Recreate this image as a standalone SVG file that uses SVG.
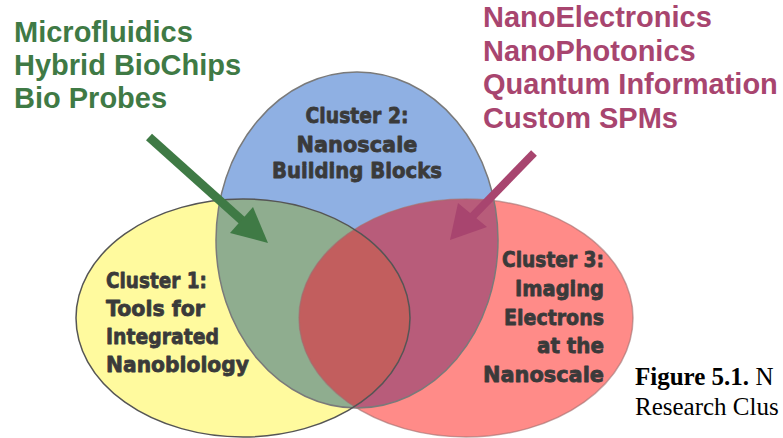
<svg xmlns="http://www.w3.org/2000/svg" width="783" height="438" viewBox="0 0 783 438">
<style>
.lbl{font-family:"DejaVu Sans","Liberation Sans",sans-serif;font-weight:bold;font-size:22px;fill:#3a3a3a;stroke:#3a3a3a;stroke-width:0.8;stroke-linejoin:round}
.bio{font-family:"Liberation Sans",Arial,sans-serif;font-weight:bold;font-size:29px;fill:#3f7a45}
.nano{font-family:"Liberation Sans",Arial,sans-serif;font-weight:bold;font-size:29px;fill:#a8456f}
.cap{font-family:"Liberation Serif","Times New Roman",serif;font-size:25px;fill:#000}
.edge{fill:none;stroke:#7a7a7a;stroke-width:1.5}
</style>
<defs>
<ellipse id="eY" cx="243" cy="318" rx="167" ry="119"/>
<ellipse id="eB" cx="357" cy="240" rx="141" ry="168"/>
<ellipse id="eR" cx="466" cy="318" rx="167" ry="119"/>
<clipPath id="cB"><use href="#eB"/></clipPath>
<clipPath id="cY"><use href="#eY"/></clipPath>
</defs>
<rect width="783" height="438" fill="#ffffff"/>
<g id="cluster2">
<use href="#eB" fill="#8fb0e3"/>
</g>
<g id="cluster1">
<use href="#eY" fill="#fffa9e"/>
</g>
<g id="cluster3">
<use href="#eR" fill="#ff8b88"/>
</g>
<g id="overlaps">
<use href="#eY" fill="#8fad8f" clip-path="url(#cB)"/>
<use href="#eR" fill="#b85c7a" clip-path="url(#cB)"/>
<use href="#eR" fill="#c25e5e" clip-path="url(#cY)"/>
</g>
<g id="outlines">
<use href="#eB" class="edge" stroke="#888"/>
<use href="#eR" class="edge" style="stroke:#a07070;stroke-opacity:0.6"/>
<use href="#eY" class="edge" style="stroke:#555"/>
</g>
<g id="label-cluster2" class="lbl" text-anchor="middle">
<text x="357" y="123" textLength="103" lengthAdjust="spacingAndGlyphs">Cluster 2:</text>
<text x="357" y="152" textLength="121" lengthAdjust="spacingAndGlyphs">Nanoscale</text>
<text x="357" y="178" textLength="170" lengthAdjust="spacingAndGlyphs">Building Blocks</text>
</g>
<g id="label-cluster1" class="lbl">
<text x="106" y="288" textLength="101" lengthAdjust="spacingAndGlyphs">Cluster 1:</text>
<text x="106" y="316" textLength="99" lengthAdjust="spacingAndGlyphs">Tools for</text>
<text x="106" y="344" textLength="113" lengthAdjust="spacingAndGlyphs">Integrated</text>
<text x="106" y="372" textLength="143" lengthAdjust="spacingAndGlyphs">Nanobiology</text>
</g>
<g id="label-cluster3" class="lbl" text-anchor="end">
<text x="604" y="267" textLength="102" lengthAdjust="spacingAndGlyphs">Cluster 3:</text>
<text x="604" y="296" textLength="89" lengthAdjust="spacingAndGlyphs">Imaging</text>
<text x="604" y="325" textLength="100" lengthAdjust="spacingAndGlyphs">Electrons</text>
<text x="604" y="353" textLength="67" lengthAdjust="spacingAndGlyphs">at the</text>
<text x="604" y="382" textLength="121" lengthAdjust="spacingAndGlyphs">Nanoscale</text>
</g>
<g id="connectors">
<line x1="149" y1="137" x2="246" y2="224" stroke="#3f7a45" stroke-width="9"/>
<polygon points="268,243 230,233 253,207" fill="#3f7a45"/>
<line x1="534" y1="153" x2="470" y2="219" stroke="#a8456f" stroke-width="8"/>
<polygon points="450,240 458,203 487,227" fill="#a8456f"/>
</g>
<g id="apps-bio" class="bio">
<text x="14" y="42">Microfluidics</text>
<text x="14" y="75">Hybrid BioChips</text>
<text x="14" y="108">Bio Probes</text>
</g>
<g id="apps-nano" class="nano">
<text x="483" y="27">NanoElectronics</text>
<text x="483" y="61">NanoPhotonics</text>
<text x="483" y="94">Quantum Information</text>
<text x="483" y="128">Custom SPMs</text>
</g>
<g id="caption" class="cap">
<text x="635" y="385"><tspan font-weight="bold">Figure 5.1.</tspan> N</text>
<text x="635" y="415">Research Clus</text>
</g>
</svg>
